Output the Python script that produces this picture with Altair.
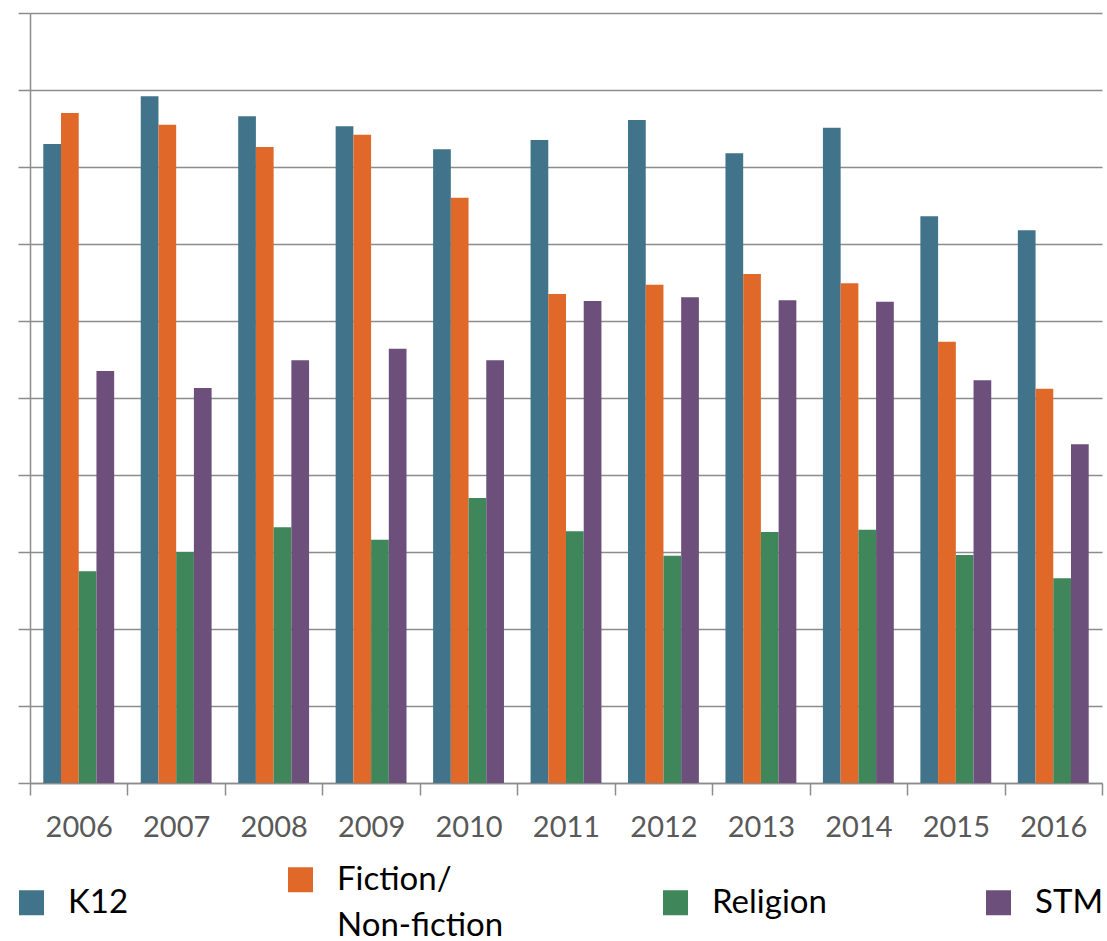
import altair as alt
import pandas as pd

# Yearly index values per publishing segment (gridline step = 1 unit)
years = ["2006", "2007", "2008", "2009", "2010", "2011", "2012", "2013", "2014", "2015", "2016"]
series = ["K12", "Fiction/Non-fiction", "Religion", "STM"]
colors = ["#41738A", "#E0692A", "#3F865A", "#6D4F7C"]

k12 = [8.30, 8.92, 8.66, 8.53, 8.23, 8.35, 8.61, 8.18, 8.51, 7.36, 7.18]
fiction = [8.70, 8.55, 8.26, 8.42, 7.60, 6.35, 6.47, 6.61, 6.49, 5.73, 5.12]
religion = [2.75, 3.00, 3.32, 3.16, 3.70, 3.27, 2.95, 3.26, 3.29, 2.96, 2.66]
stm = [5.35, 5.13, 5.49, 5.64, 5.49, 6.26, 6.31, 6.27, 6.25, 5.23, 4.40]

rows = []
for name, vals in zip(series, [k12, fiction, religion, stm]):
    for yr, v in zip(years, vals):
        rows.append({"year": yr, "series": name, "value": v})
df = pd.DataFrame(rows)

line_gray = "#8c8c8c"

chart = alt.Chart(df).mark_bar().encode(
    x=alt.X(
        "year:N",
        sort=years,
        scale=alt.Scale(paddingInner=0, paddingOuter=0),
        axis=alt.Axis(
            title=None,
            tickBand="extent",
            labelAngle=0,
            labelFont="Lato",
            labelFontSize=29,
            labelColor="#595959",
            labelPadding=18,
            tickSize=12,
            tickColor=line_gray,
            tickWidth=1.5,
            domainColor=line_gray,
            domainWidth=1.5,
            grid=False,
        ),
    ),
    xOffset=alt.XOffset(
        "series:N", sort=series, scale=alt.Scale(paddingInner=0, paddingOuter=0.75)
    ),
    y=alt.Y(
        "value:Q",
        scale=alt.Scale(domain=[0, 10], nice=False),
        axis=alt.Axis(
            title=None,
            labels=False,
            values=list(range(11)),
            tickSize=12,
            tickColor=line_gray,
            tickWidth=1.5,
            domainColor=line_gray,
            domainWidth=1.5,
            grid=True,
            gridColor=line_gray,
            gridWidth=1.5,
        ),
    ),
    color=alt.Color(
        "series:N",
        sort=series,
        scale=alt.Scale(domain=series, range=colors),
        legend=alt.Legend(
            title=None,
            orient="none",
            legendX=-15,
            legendY=850,
            direction="horizontal",
            columns=4,
            gridAlign="each",
            columnPadding=155,
            symbolType="square",
            symbolSize=625,
            symbolStrokeWidth=0,
            symbolOpacity=1,
            labelFont="Lato",
            labelFontSize=33,
            labelColor="#000000",
            labelOffset=20,
            labelLimit=400,
            labelExpr="datum.label == 'Fiction/Non-fiction' ? ['Fiction/', 'Non-fiction'] : datum.label",
        ),
    ),
).properties(
    width=1072,
    height=770,
    padding={"left": 30, "top": 13, "right": 5, "bottom": 158},
    autosize=alt.AutoSizeParams(type="none"),
).configure(
    view=alt.ViewConfig(strokeWidth=0),
    style={"guide-label": {"lineHeight": 46}},
)

chart.save("out.html", embed_options={"renderer": "svg", "actions": False})
